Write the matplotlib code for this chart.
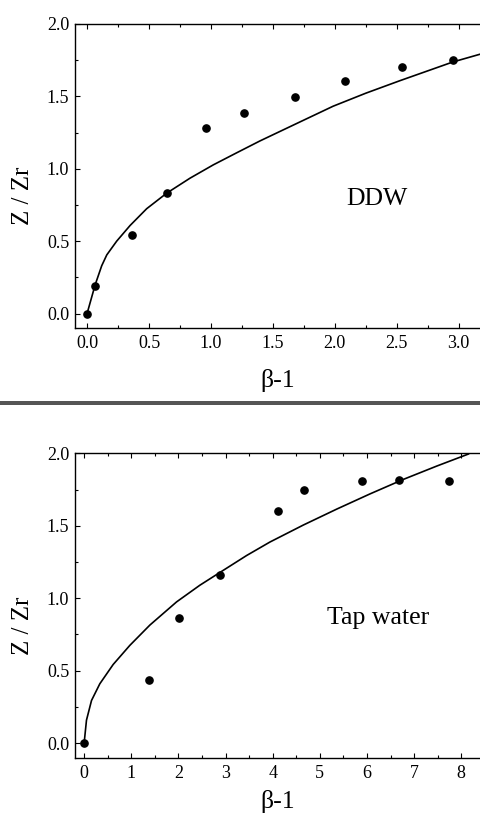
import matplotlib
matplotlib.use("Agg")
import matplotlib.pyplot as plt
from matplotlib.ticker import MultipleLocator, FormatStrFormatter
from matplotlib.patches import Rectangle

# ---- data: DDW panel ----
ddw_x = [0.0, 0.065, 0.366, 0.648, 0.96, 1.266, 1.68, 2.083, 2.54, 2.952]
ddw_y = [0.0, 0.19, 0.544, 0.836, 1.285, 1.388, 1.494, 1.607, 1.704, 1.754]
ddw_fit_x = [0.0, 0.065, 0.118, 0.159, 0.239, 0.347, 0.481, 0.642, 0.831, 1.019,
             1.207, 1.395, 1.7, 1.986, 2.25, 2.524, 2.954, 3.2]
ddw_fit_y = [0.0, 0.198, 0.33, 0.405, 0.50, 0.608, 0.724, 0.831, 0.935, 1.027,
             1.11, 1.192, 1.316, 1.432, 1.522, 1.608, 1.738, 1.798]

# ---- data: Tap water panel ----
tap_x = [0.0, 1.372, 2.016, 2.893, 4.109, 4.675, 5.898, 6.683, 7.751]
tap_y = [0.0, 0.437, 0.861, 1.162, 1.60, 1.747, 1.809, 1.816, 1.809]
tap_fit_x = [0.0, 0.05, 0.157, 0.333, 0.616, 0.97, 1.395, 1.962, 2.456, 2.881,
             3.448, 3.943, 4.65, 5.359, 6.066, 6.773, 7.482, 8.153]
tap_fit_y = [0.0, 0.159, 0.295, 0.41, 0.543, 0.675, 0.815, 0.975, 1.09, 1.178,
             1.295, 1.388, 1.505, 1.615, 1.72, 1.82, 1.912, 1.995]

plt.rcParams['font.family'] = ['Liberation Serif', 'DejaVu Serif']

fig = plt.figure(figsize=(4.81, 8.14), dpi=100)

W, H = 481.0, 814.0

def make_ax(left, top, bottom, right=481.0):
    return fig.add_axes([left / W, 1 - bottom / H, (right - left) / W, (bottom - top) / H])

def style(ax, xmaj, xmin, fmt):
    ax.spines['right'].set_visible(False)
    for s in ['left', 'top', 'bottom']:
        ax.spines[s].set_linewidth(1.0)
    ax.xaxis.set_major_locator(MultipleLocator(xmaj))
    ax.xaxis.set_minor_locator(MultipleLocator(xmin))
    ax.xaxis.set_major_formatter(FormatStrFormatter(fmt))
    ax.yaxis.set_major_locator(MultipleLocator(0.5))
    ax.yaxis.set_minor_locator(MultipleLocator(0.25))
    ax.yaxis.set_major_formatter(FormatStrFormatter('%.1f'))
    ax.tick_params(which='both', direction='in', top=True, right=False, labelsize=13, width=0.8)
    ax.tick_params(which='major', length=3.8)
    ax.tick_params(which='minor', length=2.2)
    ax.tick_params(axis='x', pad=5)
    ax.tick_params(axis='y', pad=4)

# Top panel
ax1 = make_ax(74.7, 24, 328)
ax1.plot(ddw_fit_x, ddw_fit_y, color='black', lw=1.2, zorder=2)
ax1.plot(ddw_x, ddw_y, 'o', color='black', ms=5.2, zorder=3)
ax1.set_xlim(-0.1, 3.18)
ax1.set_ylim(-0.1, 2.0)
style(ax1, 0.5, 0.25, '%.1f')
ax1.set_xlabel('β-1', fontsize=18.5, labelpad=12)
ax1.set_ylabel('Z / Zr', fontsize=18)
ax1.yaxis.set_label_coords(-0.10, 0.434)
ax1.text(2.09, 0.75, 'DDW', fontsize=18.5)

# Bottom panel
ax2 = make_ax(74.7, 453.3, 757.7)
ax2.plot(tap_fit_x, tap_fit_y, color='black', lw=1.2, zorder=2)
ax2.plot(tap_x, tap_y, 'o', color='black', ms=5.2, zorder=3)
ax2.set_xlim(-0.2, 8.42)
ax2.set_ylim(-0.1, 2.0)
style(ax2, 1, 0.5, '%d')
ax2.set_xlabel('β-1', fontsize=18.5, labelpad=6)
ax2.set_ylabel('Z / Zr', fontsize=18)
ax2.yaxis.set_label_coords(-0.10, 0.433)
ax2.text(5.15, 0.82, 'Tap water', fontsize=18.5)

# Grey separator bar
fig.add_artist(Rectangle((0, 1 - 405 / H), 1, 4 / H, transform=fig.transFigure,
                         facecolor='#555555', edgecolor='none'))

fig.savefig('out.png', dpi=100)
